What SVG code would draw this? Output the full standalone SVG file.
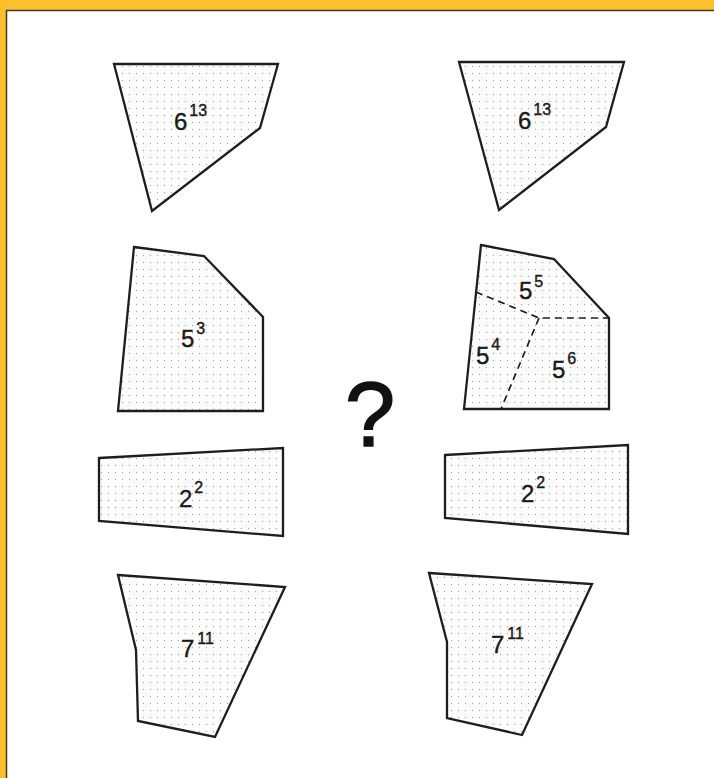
<svg xmlns="http://www.w3.org/2000/svg" width="714" height="778" viewBox="0 0 714 778">
<defs>
<pattern id="dots" width="7" height="7" patternUnits="userSpaceOnUse">
<rect width="7" height="7" fill="#fdfdfd"/>
<circle cx="3.5" cy="3.5" r="0.7" fill="#a8a8a8"/>
</pattern>
<style>
.shape{fill:url(#dots);stroke:#1e1e1e;stroke-width:2.3;stroke-linejoin:miter}
.dash{fill:none;stroke:#1e1e1e;stroke-width:1.7;stroke-dasharray:7 5}
.lbl{font-family:"Liberation Sans",Arial,sans-serif;font-size:24px;fill:#1a1a1a;stroke:#1a1a1a;stroke-width:0.4}
.sup{font-size:16px}
.q{font-family:"Liberation Sans",Arial,sans-serif;font-size:90px;fill:#111;stroke:#111;stroke-width:1.6}
</style>
</defs>
<rect width="714" height="778" fill="#ffffff"/>
<rect x="0" y="0" width="714" height="10" fill="#fcbf2e"/>
<rect x="0" y="0" width="6" height="778" fill="#fcbf2e"/>
<path d="M6.5 778 V10.5 H714" fill="none" stroke="#3a3a3a" stroke-width="1.5"/>

<g id="left-6-13">
<polygon class="shape" points="114,64 278,64 260,128 152,211"/>
<text class="lbl" x="174" y="130">6<tspan class="sup" dx="2" dy="-14">13</tspan></text>
</g>
<g id="right-6-13">
<polygon class="shape" points="459,62 624,62 606,127 499,210"/>
<text class="lbl" x="518" y="129">6<tspan class="sup" dx="2" dy="-14">13</tspan></text>
</g>

<g id="left-5-3">
<polygon class="shape" points="134,247 204,256 263,317 263,411 118,411"/>
<text class="lbl" x="181" y="347">5<tspan class="sup" dx="2" dy="-13">3</tspan></text>
</g>
<g id="right-5">
<polygon class="shape" points="481,245 554,259 609,318 609,409 464,409"/>
<polyline class="dash" points="476,292 539,318 609,318"/>
<line class="dash" x1="539" y1="318" x2="501" y2="409"/>
<text class="lbl" x="519" y="299">5<tspan class="sup" dx="2" dy="-12">5</tspan></text>
<text class="lbl" x="476" y="364">5<tspan class="sup" dx="2" dy="-14">4</tspan></text>
<text class="lbl" x="552" y="378">5<tspan class="sup" dx="2" dy="-14">6</tspan></text>
</g>

<g id="question">
<text class="q" x="370" y="446" text-anchor="middle">?</text>
</g>

<g id="left-2-2">
<polygon class="shape" points="99,458 283,448 283,536 99,521"/>
<text class="lbl" x="179" y="507">2<tspan class="sup" dx="2" dy="-14">2</tspan></text>
</g>
<g id="right-2-2">
<polygon class="shape" points="445,455 628,445 628,534 445,518"/>
<text class="lbl" x="521" y="502">2<tspan class="sup" dx="2" dy="-14">2</tspan></text>
</g>

<g id="left-7-11">
<polygon class="shape" points="118,575 285,587 215,737 138,721 136,650"/>
<text class="lbl" x="181" y="657">7<tspan class="sup" dx="3" dy="-13">11</tspan></text>
</g>
<g id="right-7-11">
<polygon class="shape" points="429,573 592,584 522,735 447,718 447,642"/>
<text class="lbl" x="491" y="653">7<tspan class="sup" dx="3" dy="-14">11</tspan></text>
</g>
</svg>
